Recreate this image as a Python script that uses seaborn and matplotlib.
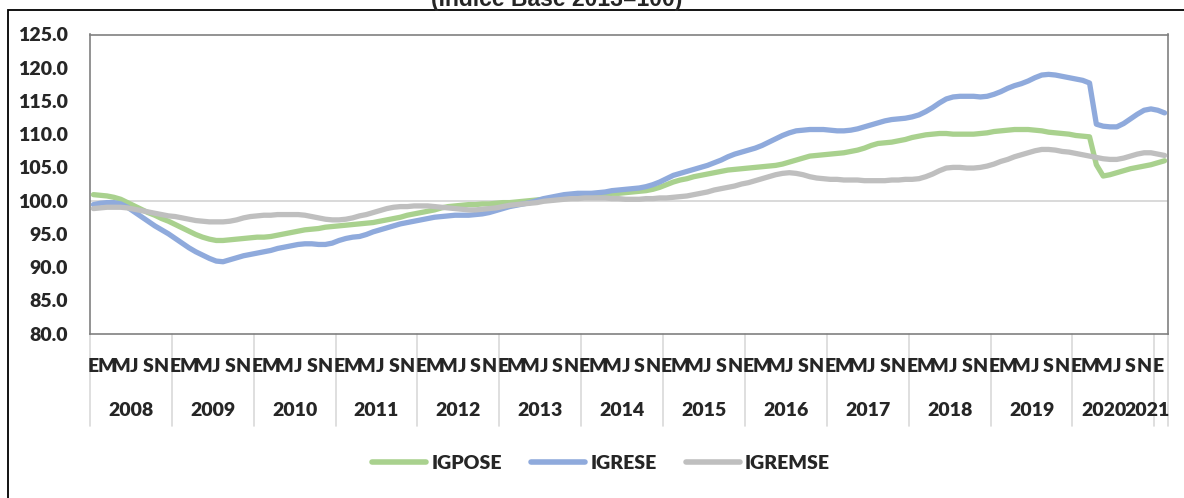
import numpy as np
import pandas as pd
import matplotlib.pyplot as plt
import matplotlib.transforms as mtransforms
from matplotlib.patches import Rectangle
import seaborn as sns

# monthly index values, ene-2008 .. feb-2021
igpose = [
    100.9, 100.8, 100.7, 100.5, 100.2, 99.7, 99.2, 98.7, 98.2, 97.8, 97.3, 96.9,
    96.4, 95.9, 95.4, 94.9, 94.5, 94.2, 94.0, 94.0, 94.1, 94.2, 94.3, 94.4,
    94.5, 94.5, 94.6, 94.8, 95.0, 95.2, 95.4, 95.6, 95.7, 95.8, 96.0, 96.1,
    96.2, 96.3, 96.4, 96.5, 96.6, 96.7, 96.9, 97.1, 97.3, 97.5, 97.8, 98.0,
    98.2, 98.4, 98.6, 98.9, 99.1, 99.2, 99.3, 99.4, 99.4, 99.5, 99.5, 99.6,
    99.7, 99.7, 99.8, 99.9, 100.0, 100.1, 100.2, 100.3, 100.4, 100.5, 100.5, 100.6,
    100.7, 100.8, 100.9, 101.0, 101.1, 101.1, 101.2, 101.3, 101.4, 101.5, 101.7, 102.0,
    102.4, 102.8, 103.1, 103.3, 103.6, 103.8, 104.0, 104.2, 104.4, 104.6, 104.7, 104.8,
    104.9, 105.0, 105.1, 105.2, 105.3, 105.5, 105.8, 106.1, 106.4, 106.7, 106.8, 106.9,
    107.0, 107.1, 107.2, 107.4, 107.6, 107.9, 108.3, 108.6, 108.7, 108.8, 109.0, 109.2,
    109.5, 109.7, 109.9, 110.0, 110.1, 110.1, 110.0, 110.0, 110.0, 110.0, 110.1, 110.2,
    110.4, 110.5, 110.6, 110.7, 110.7, 110.7, 110.6, 110.5, 110.3, 110.2, 110.1, 110.0,
    109.8, 109.7, 109.6, 105.4, 103.7, 103.9, 104.2, 104.5, 104.8, 105.0, 105.2, 105.4,
    105.7, 106.0,
]

igrese = [
    99.4, 99.6, 99.7, 99.7, 99.5, 99.0, 98.3, 97.6, 96.9, 96.2, 95.6, 95.0,
    94.3, 93.6, 92.9, 92.3, 91.8, 91.3, 90.9, 90.8, 91.1, 91.4, 91.7, 91.9,
    92.1, 92.3, 92.5, 92.8, 93.0, 93.2, 93.4, 93.5, 93.5, 93.4, 93.4, 93.6,
    94.0, 94.3, 94.5, 94.6, 94.9, 95.3, 95.6, 95.9, 96.2, 96.5, 96.7, 96.9,
    97.1, 97.3, 97.5, 97.6, 97.7, 97.8, 97.8, 97.8, 97.9, 98.0, 98.2, 98.5,
    98.8, 99.1, 99.3, 99.5, 99.7, 100.0, 100.3, 100.5, 100.7, 100.9, 101.0, 101.1,
    101.1, 101.1, 101.2, 101.3, 101.5, 101.6, 101.7, 101.8, 101.9, 102.1, 102.4, 102.8,
    103.3, 103.8, 104.1, 104.4, 104.7, 105.0, 105.3, 105.7, 106.1, 106.6, 107.0, 107.3,
    107.6, 107.9, 108.3, 108.8, 109.3, 109.8, 110.2, 110.5, 110.6, 110.7, 110.7, 110.7,
    110.6, 110.5, 110.5, 110.6, 110.8, 111.1, 111.4, 111.7, 112.0, 112.2, 112.3, 112.4,
    112.6, 112.9, 113.4, 114.0, 114.7, 115.3, 115.6, 115.7, 115.7, 115.7, 115.6, 115.7,
    116.0, 116.4, 116.9, 117.3, 117.6, 118.0, 118.5, 118.9, 119.0, 118.9, 118.7, 118.5,
    118.3, 118.1, 117.7, 111.5, 111.2, 111.1, 111.1, 111.6, 112.3, 113.0, 113.6, 113.8,
    113.6, 113.2,
]

igremse = [
    98.8, 98.9, 99.0, 99.0, 99.0, 98.9, 98.7, 98.5, 98.3, 98.1, 97.9, 97.7,
    97.6, 97.4, 97.2, 97.0, 96.9, 96.8, 96.8, 96.8, 96.9, 97.1, 97.4, 97.6,
    97.7, 97.8, 97.8, 97.9, 97.9, 97.9, 97.9, 97.8, 97.6, 97.4, 97.2, 97.1,
    97.1, 97.2, 97.4, 97.7, 97.9, 98.2, 98.5, 98.8, 99.0, 99.1, 99.1, 99.2,
    99.2, 99.2, 99.1, 99.0, 98.9, 98.8, 98.7, 98.6, 98.6, 98.7, 98.8, 98.9,
    99.1, 99.3, 99.4, 99.5, 99.6, 99.7, 99.9, 100.0, 100.1, 100.2, 100.3, 100.3,
    100.4, 100.4, 100.4, 100.4, 100.3, 100.3, 100.2, 100.2, 100.2, 100.3, 100.3, 100.4,
    100.4, 100.5, 100.6, 100.7, 100.9, 101.1, 101.3, 101.6, 101.8, 102.0, 102.2, 102.5,
    102.7, 103.0, 103.3, 103.6, 103.9, 104.1, 104.2, 104.1, 103.9, 103.6, 103.4, 103.3,
    103.2, 103.2, 103.1, 103.1, 103.1, 103.0, 103.0, 103.0, 103.0, 103.1, 103.1, 103.2,
    103.2, 103.3, 103.6, 104.0, 104.5, 104.9, 105.0, 105.0, 104.9, 104.9, 105.0, 105.2,
    105.5, 105.9, 106.2, 106.6, 106.9, 107.2, 107.5, 107.7, 107.7, 107.6, 107.4, 107.3,
    107.1, 106.9, 106.7, 106.5, 106.3, 106.2, 106.2, 106.4, 106.7, 107.0, 107.2, 107.2,
    107.0, 106.8,
]

series_names = ["IGPOSE", "IGRESE", "IGREMSE"]
colors = ["#A9D18E", "#8FAADC", "#BFBFBF"]
years = [str(y) for y in range(2008, 2022)]
month_letters = ["E", "M", "M", "J", "S", "N"]   # every second month
y_ticks = [80, 85, 90, 95, 100, 105, 110, 115, 120, 125]

n = len(igpose)
df = pd.DataFrame({
    "mes": np.tile(np.arange(n), 3),
    "valor": igpose + igrese + igremse,
    "serie": np.repeat(series_names, n),
})

sns.set_theme(style="white")
plt.rcParams["font.family"] = ["Lato", "DejaVu Sans"]
W = "heavy"

fig = plt.figure(figsize=(11.84, 4.98), dpi=100)
ax = fig.add_axes([90 / 1184, 1 - 333.5 / 498, 1078 / 1184, 299 / 498])

# reference line at 100
ax.axhline(100, color="#D9D9D9", lw=1.4, zorder=1)

sns.lineplot(data=df, x="mes", y="valor", hue="serie", hue_order=series_names,
             palette=colors, linewidth=3.8, ax=ax, zorder=3,
             solid_capstyle="round", solid_joinstyle="round")

ax.set_xlim(-0.5, n - 0.5)
ax.set_ylim(80, 125)
ax.set_yticks(y_ticks)
ax.set_yticklabels([f"{v:.1f}" for v in y_ticks], fontsize=14, fontweight=W)
ax.tick_params(axis="y", length=0, pad=16)
ax.set_xticks([])
ax.set_xlabel("")
ax.set_ylabel("")
for s in ax.spines.values():
    s.set_color("#808080")
    s.set_linewidth(1.2)

trans = mtransforms.blended_transform_factory(ax.transData, ax.transAxes)

# month letters
for i in range(0, n, 2):
    ax.text(i, -0.112, month_letters[(i % 12) // 2], transform=trans,
            ha="center", va="center", fontsize=14, fontweight=W)

# year labels and separators (last two squeezed like in the original)
for k, yr in enumerate(years):
    start = k * 12 - 0.5
    end = min(start + 12, n - 0.5)
    if end - start < 12:
        ax.text(end + 0.3, -0.258, yr, transform=trans,
                ha="right", va="center", fontsize=14, fontweight=W)
    elif k == len(years) - 2:
        ax.text(end - 4.0, -0.258, yr, transform=trans,
                ha="right", va="center", fontsize=14, fontweight=W)
    else:
        ax.text((start + end) / 2, -0.258, yr, transform=trans,
                ha="center", va="center", fontsize=14, fontweight=W)
seps = list(range(0, n, 12)) + [n]
for s in seps:
    ax.plot([s - 0.5, s - 0.5], [0, -0.31], transform=trans, color="#D9D9D9",
            lw=1.2, clip_on=False, zorder=0)

# legend
handles, labels = ax.get_legend_handles_labels()
ax.legend(handles, labels, loc="center", bbox_to_anchor=(601 / 1184, 1 - 463 / 498),
          bbox_transform=fig.transFigure, ncol=3, frameon=False,
          prop={"size": 14, "weight": W}, handlelength=2.8,
          handletextpad=0.25, columnspacing=1.5)
for line in ax.get_legend().get_lines():
    line.set_linewidth(4)
    line.set_solid_capstyle("round")

# outer chart frame and clipped title
fig.patches.append(Rectangle((8 / 1184, -0.05), 1.1, 1 - 10 / 498 + 0.05,
                             transform=fig.transFigure, fill=False,
                             edgecolor="black", lw=1.3))
fig.text(557 / 1184, 1 - 6 / 498, "(Índice Base 2013=100)", ha="center",
         va="baseline", fontsize=16.5, fontweight="bold",
         family=["Liberation Sans", "DejaVu Sans"])

fig.savefig("out.png", dpi=100)
